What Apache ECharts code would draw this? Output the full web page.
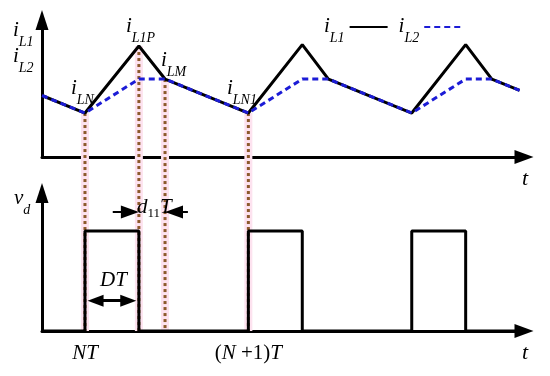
<!DOCTYPE html>
<html>
<head>
<meta charset="utf-8">
<script src="https://cdn.jsdelivr.net/npm/echarts@6/dist/echarts.min.js"></script>
<style>
  html, body { margin: 0; padding: 0; background: #fff; }
  #main { width: 550px; height: 376px; }
</style>
</head>
<body>
<div id="main"></div>
<script>
// time axis in periods (NT = 0, (N+1)T = 1)
var tKnots = [-0.263, 0, 0.33, 0.49, 1, 1.33, 1.49, 2, 2.33, 2.49, 2.66];
var iL1 = [4.49, 3.21, 8.1, 5.69, 3.21, 8.2, 5.69, 3.21, 8.2, 5.69, 4.86];
var iL2 = [4.49, 3.21, 5.69, 5.69, 3.21, 5.69, 5.69, 3.21, 5.69, 5.69, 4.86];

// gate signal vd
var vdT = [-0.263, 0, 0, 0.33, 0.33, 1, 1, 1.33, 1.33, 2, 2, 2.33, 2.33, 2.687];
var vd = [0, 0, 7.25, 7.25, 0, 0, 7.25, 7.25, 0, 0, 7.25, 7.25, 0, 0];

// dotted guide lines: time and where they start on the current plot
var guideT = [0, 0.33, 0.49, 1];
var guideTop = [3.21, 8.1, 5.69, 3.21];
var guideLow = -12.7; // bottom plot baseline, in top plot units

var xLabels = { 0: '{v|NT}', 1: '{u|(}{v|N}{u| +1)}{v|T}' };

var FONT = 'Liberation Serif';
var RICH = {
  b: { fontFamily: FONT, fontStyle: 'italic', fontSize: 21, lineHeight: 22, verticalAlign: 'top', color: '#000' },
  s: { fontFamily: FONT, fontStyle: 'italic', fontSize: 14, lineHeight: 14, padding: [15, 0, 0, 0], verticalAlign: 'top', color: '#000' },
  n: { fontFamily: FONT, fontSize: 13, lineHeight: 13, padding: [10, 0, 0, 0], verticalAlign: 'top', color: '#000' },
  v: { fontFamily: FONT, fontStyle: 'italic', fontSize: 21, color: '#000' },
  u: { fontFamily: FONT, fontSize: 21, color: '#000' }
};

function sub(base, s) {
  return '{b|' + base + '}{s|' + s + '}';
}

function zip(xs, ys) {
  return xs.map(function (x, i) { return [x, ys[i]]; });
}

var chart = echarts.init(document.getElementById('main'), null, { renderer: 'canvas' });

var axisLine = {
  show: true,
  onZero: false,
  lineStyle: { color: '#000', width: 3 },
  symbol: ['none', 'triangle']
};

function xAxisCfg(idx, labels) {
  return {
    gridIndex: idx,
    type: 'value',
    min: -0.263,
    max: 2.687,
    axisLine: Object.assign({}, axisLine, { symbolSize: [14, 19] }),
    axisTick: { show: false },
    splitLine: { show: false },
    name: 't',
    nameLocation: 'end',
    nameGap: 1,
    nameTextStyle: {
      fontFamily: FONT, fontStyle: 'italic', fontSize: 22, color: '#000',
      align: 'center', verticalAlign: 'top', padding: [11, 0, 0, 0]
    },
    axisLabel: labels ? {
      show: true,
      customValues: [0, 1],
      margin: 12,
      formatter: function (v) { return xLabels[v] || ''; },
      rich: RICH
    } : { show: false }
  };
}

function yAxisCfg(idx) {
  return {
    gridIndex: idx,
    type: 'value',
    min: 0,
    max: 10,
    axisLine: Object.assign({}, axisLine, { symbolSize: [13, 20] }),
    axisTick: { show: false },
    axisLabel: { show: false },
    splitLine: { show: false }
  };
}

var series = [];

guideT.forEach(function (t, i) {
  var pts = [[t, guideTop[i]], [t, guideLow]];
  series.push({
    type: 'line', xAxisIndex: 0, yAxisIndex: 0, data: pts,
    symbol: 'none', clip: false, silent: true, z: 1,
    lineStyle: { color: '#fde2ef', width: 8 }
  });
  series.push({
    type: 'line', xAxisIndex: 0, yAxisIndex: 0, data: pts,
    symbol: 'none', clip: false, silent: true, z: 2,
    lineStyle: { color: '#8c5a2c', width: 3, type: [3, 3] }
  });
});

series.push({
  name: 'iL1', type: 'line', xAxisIndex: 0, yAxisIndex: 0,
  data: zip(tKnots, iL1), symbol: 'none', z: 3,
  color: '#000',
  lineStyle: { color: '#000', width: 3 }
});
series.push({
  name: 'iL2', type: 'line', xAxisIndex: 0, yAxisIndex: 0,
  data: zip(tKnots, iL2), symbol: 'none', z: 4,
  color: '#1c1cd6',
  lineStyle: { color: '#1c1cd6', width: 3, type: [6, 4] }
});

var arrowLine = { color: '#000', width: 3, type: 'solid' };
series.push({
  name: 'vd', type: 'line', xAxisIndex: 1, yAxisIndex: 1,
  data: zip(vdT, vd), symbol: 'none', z: 3,
  lineStyle: { color: '#000', width: 3 },
  markLine: {
    silent: true,
    animation: false,
    symbolSize: [12, 16],
    label: { show: false },
    lineStyle: arrowLine,
    data: [
      // DT
      [{ coord: [0.065, 2.2], symbol: 'triangle' }, { coord: [0.265, 2.2], symbol: 'triangle' }],
      // d11T (arrows pointing inward)
      [{ coord: [0.17, 8.62], symbol: 'none', lineStyle: { width: 2 } },
       { coord: [0.275, 8.62], symbol: 'triangle', symbolSize: [13, 18] }],
      [{ coord: [0.545, 8.62], symbol: 'triangle', symbolSize: [13, 18], lineStyle: { width: 2 } },
       { coord: [0.63, 8.62], symbol: 'none' }]
    ]
  }
});

function label(x, y, text) {
  return { type: 'text', left: x, top: y, z: 10, style: { text: text, rich: RICH } };
}

var option = {
  backgroundColor: '#fff',
  animation: false,
  grid: [
    { left: 42, right: 26, top: 20, bottom: 219, outerBoundsMode: 'none' },
    { left: 42, right: 26, top: 193, bottom: 45, outerBoundsMode: 'none' }
  ],
  xAxis: [xAxisCfg(0, false), xAxisCfg(1, true)],
  yAxis: [yAxisCfg(0), yAxisCfg(1)],
  legend: {
    data: ['iL1', 'iL2'],
    left: 319,
    top: 11,
    align: 'right',
    itemWidth: 38,
    itemHeight: 10,
    itemGap: 10,
    itemStyle: { opacity: 0 },
    formatter: function (name) { return name === 'iL1' ? sub('i', 'L1') : sub('i', 'L2'); },
    textStyle: { rich: RICH }
  },
  graphic: [
    label(13, 20, sub('i', 'L1')),
    label(13, 46, sub('i', 'L2')),
    label(71, 78, sub('i', 'LN')),
    label(126, 16, sub('i', 'L1P')),
    label(161, 50, sub('i', 'LM')),
    label(227, 78, sub('i', 'LN1')),
    label(14, 188, '{b|v}{s|d}'),
    label(137, 197, '{b|d}{n|11}{b|T}'),
    { type: 'text', left: 100, top: 270, z: 10, style: { text: 'DT', font: 'italic 21px "Liberation Serif"', fill: '#000' } }
  ],
  series: series
};

chart.setOption(option);
</script>
</body>
</html>
